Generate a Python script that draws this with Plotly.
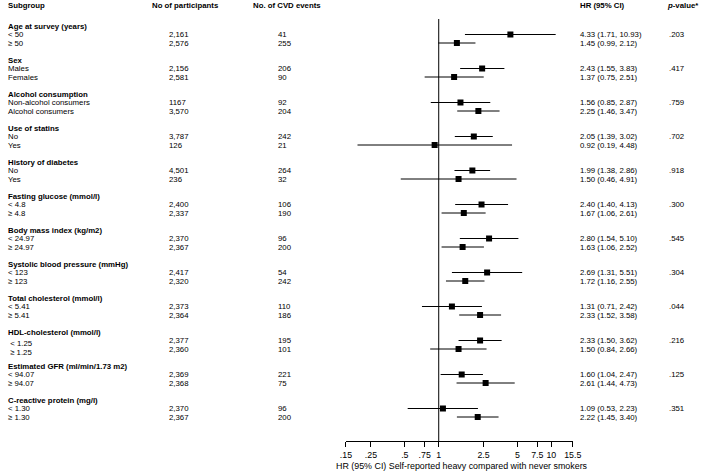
import plotly.graph_objects as go
import math

groups = ["Age at survey (years)", "Sex", "Alcohol consumption", "Use of statins",
          "History of diabetes", "Fasting glucose (mmol/l)", "Body mass index (kg/m2)",
          "Systolic blood pressure (mmHg)", "Total cholesterol (mmol/l)",
          "HDL-cholesterol (mmol/l)", "Estimated GFR (ml/min/1.73 m2)",
          "C-reactive protein (mg/l)"]
subgroups = ["< 50", "≥ 50", "Males", "Females", "Non-alcohol consumers", "Alcohol consumers",
             "No", "Yes", "No", "Yes", "< 4.8", "≥ 4.8", "< 24.97", "≥ 24.97",
             "< 123", "≥ 123", "< 5.41", "≥ 5.41", "\u00a0< 1.25", "\u00a0≥ 1.25",
             "< 94.07", "≥ 94.07", "< 1.30", "≥ 1.30"]
participants = ["2,161", "2,576", "2,156", "2,581", "1167", "3,570", "3,787", "126",
                "4,501", "236", "2,400", "2,337", "2,370", "2,367", "2,417", "2,320",
                "2,373", "2,364", "2,377", "2,360", "2,369", "2,368", "2,370", "2,367"]
events = [41, 255, 206, 90, 92, 204, 242, 21, 264, 32, 106, 190, 96, 200, 54, 242,
          110, 186, 195, 101, 221, 75, 96, 200]
hr = [4.33, 1.45, 2.43, 1.37, 1.56, 2.25, 2.05, 0.92, 1.99, 1.50, 2.40, 1.67, 2.80, 1.63,
      2.69, 1.72, 1.31, 2.33, 2.33, 1.50, 1.60, 2.61, 1.09, 2.22]
lo = [1.71, 0.99, 1.55, 0.75, 0.85, 1.46, 1.39, 0.19, 1.38, 0.46, 1.40, 1.06, 1.54, 1.06,
      1.31, 1.16, 0.71, 1.52, 1.50, 0.84, 1.04, 1.44, 0.53, 1.45]
hi = [10.93, 2.12, 3.83, 2.51, 2.87, 3.47, 3.02, 4.48, 2.86, 4.91, 4.13, 2.61, 5.10, 2.52,
      5.51, 2.55, 2.42, 3.58, 3.62, 2.66, 2.47, 4.73, 2.23, 3.40]
pvals = [".203", ".417", ".759", ".702", ".918", ".300", ".545", ".304", ".044", ".216",
         ".125", ".351"]
tick_vals = [0.15, 0.25, 0.5, 0.75, 1, 2.5, 5, 7.5, 10, 15.5]
tick_text = [".15", ".25", ".5", ".75", "1", "2.5", "5", "7.5", "10", "15.5"]
label_shift = [0, 0, 0, 0, 0, 0, 0, 0, 0, 3, 0, 0]

W, H = 709, 473
FONT = "Liberation Sans, Arial, sans-serif"
FS = 7.8
AXIS_Y = 441.3

title_y = [26 + 34 * g for g in range(len(groups))]
row_y = []
for g in range(len(groups)):
    row_y += [title_y[g] + 8.5, title_y[g] + 17]

fig = go.Figure()
fig.add_trace(go.Scatter(
    x=hr, y=row_y, mode="markers",
    marker=dict(symbol="square", size=6, color="black"),
    error_x=dict(type="data", symmetric=False,
                 array=[h - m for h, m in zip(hi, hr)],
                 arrayminus=[m - l for m, l in zip(hr, lo)],
                 width=0, thickness=1, color="black"),
    showlegend=False, hoverinfo="skip"))

ann = []
def txt(px, py, s, size=FS):
    ann.append(dict(x=px / W, y=py, xref="paper", yref="y", text=s, showarrow=False,
                    xanchor="left", yanchor="middle",
                    font=dict(family=FONT, size=size, color="black")))

# headers
txt(0.5, 5, "<b>Subgroup</b>")
txt(146.7, 5, "<b>No of participants</b>")
txt(250, 5, "<b>No. of CVD events</b>")
txt(584, 5, "<b>HR (95% CI)</b>")
txt(673.3, 5, "<b><i>p</i>-value*</b>")

for g, name in enumerate(groups):
    txt(0.5, title_y[g], "<b>" + name + "</b>")
    txt(675.7, row_y[2 * g], pvals[g])
    for j in range(2):
        i = 2 * g + j
        txt(0.5, row_y[i] + label_shift[g], subgroups[i])
        txt(164.3, row_y[i], participants[i])
        txt(275.7, row_y[i], str(events[i]))
        txt(584.7, row_y[i], f"{hr[i]:.2f} ({lo[i]:.2f}, {hi[i]:.2f})")

x0_px, x1_px = 347.3, 579.0
ann.append(dict(x=(x0_px + x1_px) / 2 / W + 0.004, y=466, xref="paper", yref="y",
                text="HR (95% CI) Self-reported heavy compared with never smokers",
                showarrow=False, xanchor="center", yanchor="middle",
                font=dict(family=FONT, size=8.9, color="black")))

fig.update_layout(
    width=W, height=H, margin=dict(l=0, r=0, t=0, b=0),
    paper_bgcolor="white", plot_bgcolor="white",
    font=dict(family=FONT, size=FS, color="black"),
    annotations=ann,
    shapes=[dict(type="line", xref="x", yref="y", x0=1, x1=1, y0=19, y1=AXIS_Y,
                 line=dict(color="black", width=1))],
    xaxis=dict(type="log", range=[math.log10(0.15), math.log10(15.5)],
               domain=[x0_px / W, x1_px / W], anchor="free",
               position=(H - AXIS_Y) / H,
               showline=True, linecolor="black", linewidth=1,
               ticks="outside", ticklen=5, tickwidth=1, tickcolor="black",
               tickvals=tick_vals, ticktext=tick_text,
               tickfont=dict(family=FONT, size=8.8, color="black"),
               showgrid=False, zeroline=False, fixedrange=True),
    yaxis=dict(range=[H, 0], domain=[0, 1], visible=False, showgrid=False,
               zeroline=False, fixedrange=True),
)

fig.write_html("out.html",
               config={"displayModeBar": False, "staticPlot": True},
               post_script="document.body.style.margin='0px';"
                           "document.body.style.overflow='hidden';")
